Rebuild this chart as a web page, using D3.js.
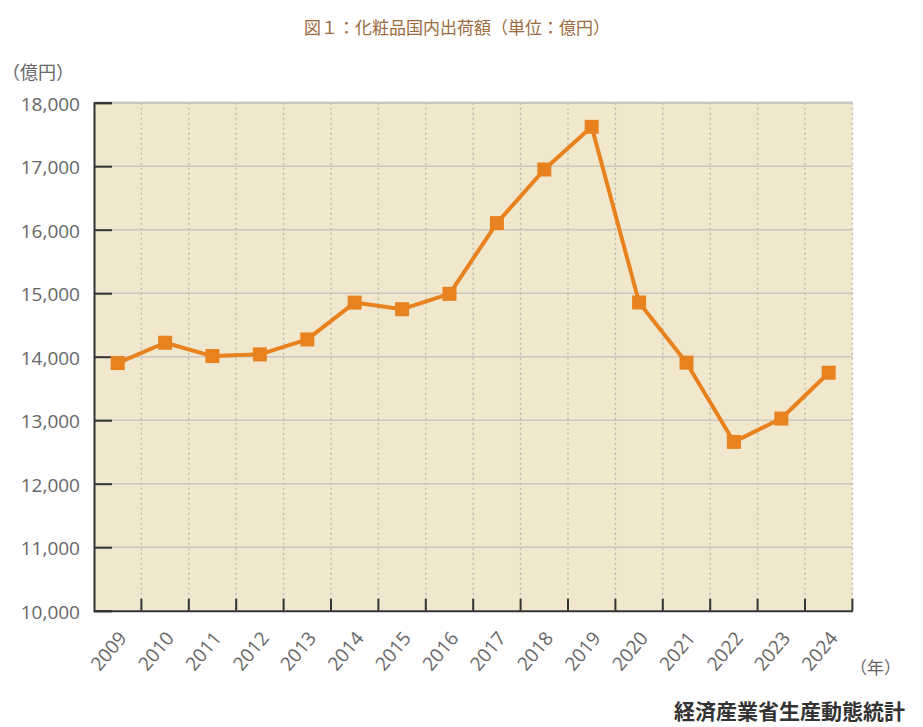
<!DOCTYPE html>
<html><head><meta charset="utf-8">
<script src="https://cdn.jsdelivr.net/npm/d3@7"></script>
<style>
body{margin:0;background:#fff;}
text{font-family:"Open Sans","Noto Sans CJK JP",sans-serif;}
</style></head>
<body><svg id="c" width="923" height="727"></svg>
<script>
const years = ["2009","2010","2011","2012","2013","2014","2015","2016","2017","2018","2019","2020","2021","2022","2023","2024"];
const values = [13900,14220,14010,14036,14272,14852,14748,14990,16104,16948,17620,14854,13906,12658,13026,13748];
const yTicks = [10000,11000,12000,13000,14000,15000,16000,17000,18000];
const title = "図１：化粧品国内出荷額（単位：億円）";
const yUnit = "（億円）";
const xUnit = "（年）";
const source = "経済産業省生産動態統計";

const svg = d3.select("#c");
const L=94, R=852.4, T=102.7, B=610.7;
const x = d3.scaleBand().domain(years).range([L,R]);
const y = d3.scaleLinear().domain([10000,18000]).range([B,T]);
const bw = x.bandwidth();

svg.append("rect").attr("x",L).attr("y",T).attr("width",R-L).attr("height",B-T).attr("fill","#f1e7cc");

// horizontal grid
svg.append("g").selectAll("line").data(yTicks.filter(d=>d>10000)).join("line")
  .attr("x1",L).attr("x2",R).attr("y1",d=>y(d)).attr("y2",d=>y(d))
  .attr("stroke","#cbc7c0").attr("stroke-width",d=>d===18000?2.5:1.6);
// vertical dotted grid
svg.append("g").selectAll("line").data(years).join("line")
  .attr("x1",d=>x(d)+bw).attr("x2",d=>x(d)+bw).attr("y1",T).attr("y2",B)
  .attr("stroke","#b8b6b2").attr("stroke-width",1.3).attr("stroke-dasharray","2,3");

// y axis
const yAxis = d3.axisLeft(y).tickValues(yTicks).tickSize(-18).tickPadding(14)
  .tickFormat(d3.format(","));
const gy = svg.append("g").attr("transform",`translate(${L},0)`).call(yAxis);
gy.select(".domain").attr("stroke","#333").attr("stroke-width",2);
gy.selectAll(".tick line").attr("stroke","#333").attr("stroke-width",2);
gy.selectAll(".tick text").attr("fill","#666").attr("font-size",19).attr("x",-14).attr("dy","0.4em");

// x axis
const xAxis = d3.axisBottom(x).tickSize(0).tickFormat("");
const gx = svg.append("g").attr("transform",`translate(0,${B})`).call(xAxis);
gx.select(".domain").attr("stroke","#333").attr("stroke-width",2);
svg.append("g").selectAll("line").data(years).join("line")
  .attr("x1",d=>x(d)+bw).attr("x2",d=>x(d)+bw).attr("y1",B).attr("y2",B-12)
  .attr("stroke","#333").attr("stroke-width",2);
svg.append("g").selectAll("text").data(years).join("text")
  .attr("transform",d=>`translate(${x(d)+bw/2+10},${B+28}) rotate(-50)`)
  .attr("text-anchor","end").attr("fill","#666").attr("font-size",19).text(d=>d);

// line
const line = d3.line().x((d,i)=>x(years[i])+bw/2).y(d=>y(d));
svg.append("path").datum(values).attr("d",line).attr("fill","none")
  .attr("stroke","#e8821e").attr("stroke-width",4).attr("stroke-linejoin","round");
svg.append("g").selectAll("rect").data(values).join("rect")
  .attr("x",(d,i)=>x(years[i])+bw/2-7).attr("y",d=>y(d)-7)
  .attr("width",14).attr("height",14).attr("fill","#e8821e");

// texts
svg.append("text").attr("x",457).attr("y",34).attr("text-anchor","middle")
  .attr("fill","#9b6a3e").attr("font-size",17).text(title);
svg.append("text").attr("x",2).attr("y",79).attr("fill","#666").attr("font-size",18).text(yUnit);
svg.append("text").attr("x",850).attr("y",674).attr("fill","#666").attr("font-size",17).text(xUnit);
svg.append("text").attr("x",905).attr("y",719).attr("text-anchor","end").attr("fill","#333")
  .attr("font-size",21).attr("font-weight","bold").text(source);
</script></body></html>
